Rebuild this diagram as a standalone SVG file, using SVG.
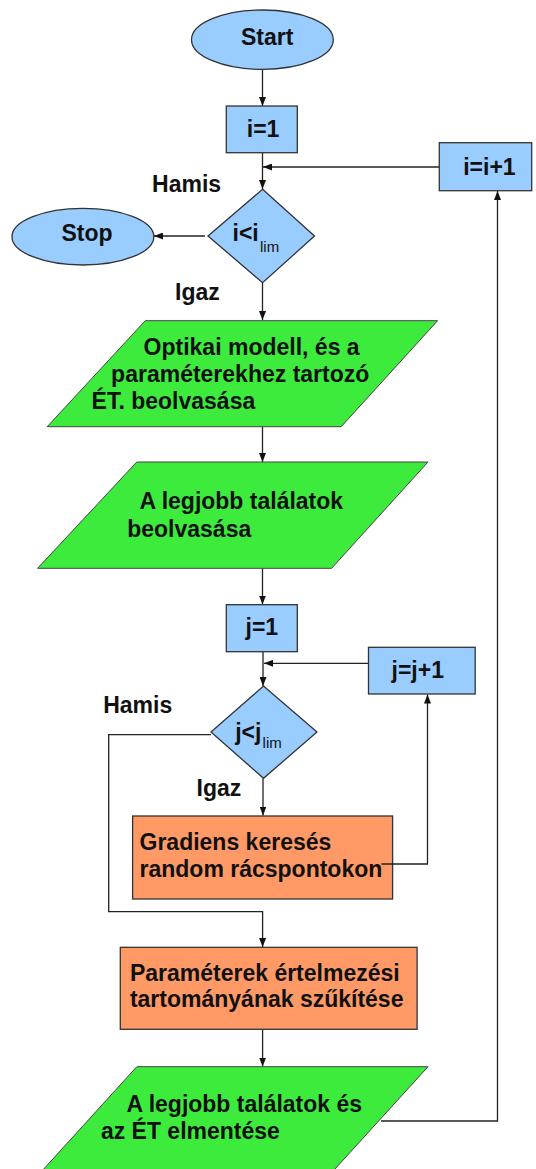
<svg xmlns="http://www.w3.org/2000/svg" width="536" height="1169" viewBox="0 0 536 1169">
<defs>
<marker id="arr" viewBox="0 0 9 7" refX="9" refY="3.5" markerWidth="9" markerHeight="7" markerUnits="userSpaceOnUse" orient="auto">
<path d="M0,0 L9,3.5 L0,7 z" fill="#111"/>
</marker>
<style>
.blue{fill:#99ccff;stroke:#333;stroke-width:1.3}
.green{fill:#3deb3d;stroke:#444;stroke-width:1}
.orange{fill:#ff9966;stroke:#333;stroke-width:1.3}
.t{font-family:"Liberation Sans",Arial,sans-serif;font-weight:bold;font-size:23px;fill:#111}
.sub{font-family:"Liberation Sans",Arial,sans-serif;font-size:15px;fill:#111}
.c{fill:none;stroke:#222;stroke-width:1.3}
</style>
</defs>
<rect width="536" height="1169" fill="#fff"/>
<g id="connectors">
<path class="c" d="M262.5,70 V106" marker-end="url(#arr)"/>
<path class="c" d="M262.5,153 V189" marker-end="url(#arr)"/>
<path class="c" d="M439,167 H263" marker-end="url(#arr)"/>
<path class="c" d="M205,236 H154" marker-end="url(#arr)"/>
<path class="c" d="M262.5,283 V320" marker-end="url(#arr)"/>
<path class="c" d="M262.5,427 V462" marker-end="url(#arr)"/>
<path class="c" d="M262.5,568 V604.5" marker-end="url(#arr)"/>
<path class="c" d="M263,652 V686" marker-end="url(#arr)"/>
<path class="c" d="M368.5,663.3 H264" marker-end="url(#arr)"/>
<path class="c" d="M263,778.5 V815.5" marker-end="url(#arr)"/>
<path class="c" d="M211,734.7 H108.7 V911.7 H262.6 V947" marker-end="url(#arr)"/>
<path class="c" d="M262.6,1030 V1066.5" marker-end="url(#arr)"/>
<path class="c" d="M381,1121 H497.5 V191" marker-end="url(#arr)"/>
</g>
<g id="start">
<ellipse class="blue" cx="262.4" cy="39.7" rx="70.9" ry="29.7"/>
<text class="t" x="241" y="45">Start</text>
</g>
<g id="i1">
<rect class="blue" x="226.3" y="106" width="71" height="46.7"/>
<text class="t" x="246.8" y="137.3">i=1</text>
</g>
<g id="iinc">
<rect class="blue" x="439.3" y="142.7" width="92.4" height="48"/>
<text class="t" x="463.2" y="175">i=i+1</text>
</g>
<g id="hamis1"><text class="t" x="152.1" y="191.7">Hamis</text></g>
<g id="cond-i">
<polygon class="blue" points="262.6,189.3 314.5,236 262.6,282.7 208,236"/>
<text class="t" x="232.5" y="240.7">i&lt;i</text>
<text class="sub" x="260" y="251.7">lim</text>
</g>
<g id="stop">
<ellipse class="blue" cx="82.9" cy="236.7" rx="70.9" ry="28.3"/>
<text class="t" x="61.5" y="240.7">Stop</text>
</g>
<g id="igaz1"><text class="t" x="175" y="300">Igaz</text></g>
<g id="read-model">
<polygon class="green" points="145.3,320.7 437.6,320.7 341.2,426.7 47.2,426.7"/>
<text class="t" x="143.6" y="355">Optikai modell, és a</text>
<text class="t" x="111.1" y="381.7">paraméterekhez tartozó</text>
<text class="t" x="91.6" y="409">ÉT. beolvasása</text>
</g>
<g id="read-best">
<polygon class="green" points="136.8,462 428,462 331.6,568.3 37.6,568.3"/>
<text class="t" x="139.5" y="509.3">A legjobb találatok</text>
<text class="t" x="127.2" y="536.7">beolvasása</text>
</g>
<g id="j1">
<rect class="blue" x="226.3" y="604.7" width="71" height="47"/>
<text class="t" x="245.5" y="635">j=1</text>
</g>
<g id="jinc">
<rect class="blue" x="368.5" y="647.3" width="106.7" height="46.7"/>
<text class="t" x="391.5" y="678.3">j=j+1</text>
</g>
<g id="hamis2"><text class="t" x="103.2" y="713.3">Hamis</text></g>
<g id="cond-j">
<polygon class="blue" points="263.5,686 317,732 263.5,778.3 211,732"/>
<text class="t" x="235.2" y="740">j&lt;j</text>
<text class="sub" x="262.6" y="747.7">lim</text>
</g>
<g id="igaz2"><text class="t" x="196.6" y="796">Igaz</text></g>
<g id="gradient">
<rect class="orange" x="132.6" y="816" width="260" height="83"/>
<text class="t" x="139.5" y="850">Gradiens keresés</text>
<text class="t" x="139.5" y="876.7">random rácspontokon</text>
</g>
<g id="narrow">
<rect class="orange" x="120.3" y="947.3" width="296.8" height="82"/>
<text class="t" x="129.9" y="980.7">Paraméterek értelmezési</text>
<text class="t" x="129.9" y="1006.7">tartományának szűkítése</text>
</g>
<g id="save">
<polygon class="green" points="136.8,1066.7 428,1066.7 331.6,1172.7 40.4,1172.7"/>
<text class="t" x="126.5" y="1112.3">A legjobb találatok és</text>
<text class="t" x="100.9" y="1139.3">az ÉT elmentése</text>
</g>
<g id="connector-overlay">
<path class="c" d="M381.5,864 H427.5 V694.5" marker-end="url(#arr)"/>
</g>
</svg>
